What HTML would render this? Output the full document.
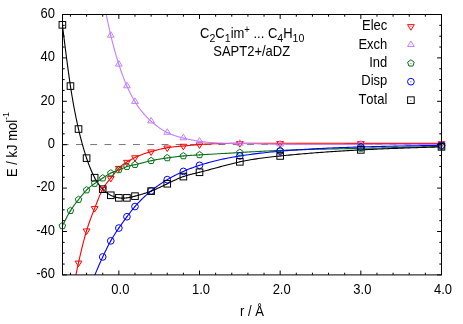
<!DOCTYPE html>
<html><head><meta charset="utf-8"><title>SAPT2+/aDZ</title>
<style>html,body{margin:0;padding:0;background:#fff;width:463px;height:324px;overflow:hidden}svg{will-change:transform}</style>
</head><body>
<svg width="463" height="324" viewBox="0 0 463 324" style="display:block;position:absolute;left:0;top:0">
<rect width="463" height="324" fill="#fff"/>
<defs><clipPath id="c"><rect x="62.5" y="14.5" width="379.0" height="260.4"/></clipPath></defs>
<line x1="62.5" y1="144.55" x2="441.5" y2="144.55" stroke="#000" stroke-width="0.55" stroke-dasharray="6.9 7.35" stroke-dashoffset="0.75"/>
<path d="M65.50,338.46 L66.13,333.98 L66.75,329.55 L67.37,325.19 L68.00,320.91 L68.62,316.70 L69.24,312.59 L69.87,308.58 L70.49,304.68 L71.11,300.89 L71.74,297.22 L72.36,293.65 L72.98,290.18 L73.61,286.81 L74.23,283.52 L74.85,280.31 L75.48,277.18 L76.10,274.12 L76.72,271.13 L77.35,268.19 L77.97,265.30 L78.59,262.45 L79.22,259.65 L79.84,256.89 L80.46,254.18 L81.09,251.52 L81.71,248.91 L82.33,246.35 L82.96,243.86 L83.58,241.42 L84.20,239.05 L84.83,236.75 L85.45,234.53 L86.07,232.37 L86.70,230.30 L87.32,228.30 L87.94,226.37 L88.57,224.51 L89.19,222.71 L89.81,220.95 L90.44,219.24 L91.06,217.57 L91.68,215.93 L92.31,214.31 L92.93,212.71 L93.55,211.11 L94.18,209.52 L94.80,207.92 L95.42,206.31 L96.05,204.70 L96.67,203.10 L97.29,201.50 L97.92,199.93 L98.54,198.38 L99.16,196.87 L99.78,195.39 L100.41,193.96 L101.03,192.59 L101.65,191.27 L102.28,190.03 L102.90,188.85 L103.52,187.76 L104.15,186.73 L104.77,185.77 L105.39,184.86 L106.02,184.00 L106.64,183.17 L107.26,182.38 L107.89,181.61 L108.51,180.86 L109.13,180.11 L109.76,179.37 L110.38,178.61 L111.00,177.84 L111.63,177.06 L112.25,176.26 L112.87,175.45 L113.50,174.64 L114.12,173.82 L114.74,173.01 L115.37,172.21 L115.99,171.43 L116.61,170.66 L117.24,169.92 L117.86,169.20 L118.48,168.52 L119.11,167.87 L119.73,167.26 L120.35,166.69 L120.98,166.15 L121.60,165.63 L122.22,165.15 L122.85,164.69 L123.47,164.25 L124.09,163.83 L124.72,163.42 L125.34,163.02 L125.96,162.63 L126.59,162.25 L127.21,161.87 L127.83,161.50 L128.46,161.12 L129.08,160.75 L129.70,160.38 L130.33,160.02 L130.95,159.66 L131.57,159.31 L132.20,158.96 L132.82,158.62 L133.44,158.28 L134.07,157.96 L134.69,157.64 L135.31,157.33 L135.94,157.03 L136.56,156.74 L137.18,156.46 L137.81,156.18 L138.43,155.91 L139.05,155.65 L139.67,155.40 L140.30,155.15 L140.92,154.91 L141.54,154.68 L142.17,154.45 L142.79,154.23 L143.41,154.01 L144.04,153.80 L144.66,153.59 L145.28,153.39 L145.91,153.19 L146.53,152.99 L147.15,152.80 L147.78,152.61 L148.40,152.42 L149.02,152.24 L149.65,152.06 L150.27,151.87 L150.89,151.69 L151.52,151.52 L152.14,151.34 L152.76,151.16 L153.39,150.98 L154.01,150.81 L154.63,150.64 L155.26,150.47 L155.88,150.30 L156.50,150.13 L157.13,149.96 L157.75,149.80 L158.37,149.64 L159.00,149.48 L159.62,149.33 L160.24,149.18 L160.87,149.03 L161.49,148.88 L162.11,148.74 L162.74,148.60 L163.36,148.47 L163.98,148.34 L164.61,148.21 L165.23,148.09 L165.85,147.97 L166.48,147.86 L167.10,147.75 L167.72,147.64 L168.35,147.54 L168.97,147.45 L169.59,147.36 L170.22,147.27 L170.84,147.19 L171.46,147.11 L172.09,147.03 L172.71,146.96 L173.33,146.89 L173.96,146.82 L174.58,146.76 L175.20,146.70 L175.83,146.64 L176.45,146.58 L177.07,146.52 L177.70,146.47 L178.32,146.41 L178.94,146.36 L179.56,146.30 L180.19,146.25 L180.81,146.20 L181.43,146.15 L182.06,146.10 L182.68,146.05 L183.30,145.99 L183.93,145.94 L184.55,145.89 L185.17,145.83 L185.80,145.78 L186.42,145.72 L187.04,145.66 L187.67,145.61 L188.29,145.55 L188.91,145.49 L189.54,145.44 L190.16,145.38 L190.78,145.32 L191.41,145.27 L192.03,145.21 L192.65,145.15 L193.28,145.10 L193.90,145.04 L194.52,144.99 L195.15,144.93 L195.77,144.88 L196.39,144.83 L197.02,144.77 L197.64,144.72 L198.26,144.67 L198.89,144.62 L199.51,144.58 L201.54,144.43 L203.58,144.29 L205.61,144.17 L207.64,144.06 L209.68,143.96 L211.71,143.87 L213.74,143.79 L215.78,143.72 L217.81,143.65 L219.84,143.60 L221.88,143.55 L223.91,143.51 L225.94,143.47 L227.98,143.44 L230.01,143.42 L232.05,143.39 L234.08,143.38 L236.11,143.36 L238.15,143.35 L240.18,143.34 L242.21,143.33 L244.25,143.32 L246.28,143.31 L248.31,143.30 L250.35,143.30 L252.38,143.29 L254.41,143.29 L256.45,143.28 L258.48,143.28 L260.51,143.28 L262.55,143.27 L264.58,143.27 L266.61,143.27 L268.65,143.27 L270.68,143.27 L272.71,143.27 L274.75,143.27 L276.78,143.27 L278.81,143.27 L280.85,143.27 L282.88,143.27 L284.91,143.28 L286.95,143.28 L288.98,143.28 L291.02,143.28 L293.05,143.28 L295.08,143.28 L297.12,143.28 L299.15,143.28 L301.18,143.29 L303.22,143.29 L305.25,143.29 L307.28,143.29 L309.32,143.29 L311.35,143.29 L313.38,143.30 L315.42,143.30 L317.45,143.30 L319.48,143.30 L321.52,143.30 L323.55,143.31 L325.58,143.31 L327.62,143.31 L329.65,143.31 L331.68,143.31 L333.72,143.31 L335.75,143.32 L337.78,143.32 L339.82,143.32 L341.85,143.32 L343.88,143.32 L345.92,143.33 L347.95,143.33 L349.98,143.33 L352.02,143.33 L354.05,143.33 L356.09,143.33 L358.12,143.34 L360.15,143.34 L362.19,143.34 L364.22,143.34 L366.25,143.34 L368.29,143.34 L370.32,143.35 L372.35,143.35 L374.39,143.35 L376.42,143.35 L378.45,143.35 L380.49,143.35 L382.52,143.35 L384.55,143.35 L386.59,143.36 L388.62,143.36 L390.65,143.36 L392.69,143.36 L394.72,143.36 L396.75,143.36 L398.79,143.36 L400.82,143.36 L402.85,143.36 L404.89,143.37 L406.92,143.37 L408.95,143.37 L410.99,143.37 L413.02,143.37 L415.06,143.37 L417.09,143.37 L419.12,143.37 L421.16,143.37 L423.19,143.37 L425.22,143.37 L427.26,143.38 L429.29,143.38 L431.32,143.38 L433.36,143.38 L435.39,143.38 L437.42,143.38 L439.46,143.38 L441.49,143.38" fill="none" stroke="#ff0000" stroke-width="1.1" clip-path="url(#c)"/>
<path d="M96.05,-47.68 L96.67,-43.14 L97.29,-38.70 L97.92,-34.37 L98.54,-30.14 L99.16,-26.02 L99.78,-21.99 L100.41,-18.05 L101.03,-14.21 L101.65,-10.46 L102.28,-6.80 L102.90,-3.22 L103.52,0.27 L104.15,3.68 L104.77,7.00 L105.39,10.25 L106.02,13.42 L106.64,16.52 L107.26,19.54 L107.89,22.50 L108.51,25.38 L109.13,28.19 L109.76,30.94 L110.38,33.62 L111.00,36.40 L111.63,38.94 L112.25,41.43 L112.87,43.85 L113.50,46.21 L114.12,48.51 L114.74,50.76 L115.37,52.95 L115.99,55.10 L116.61,57.20 L117.24,59.25 L117.86,61.25 L118.48,63.22 L119.11,65.15 L119.73,67.04 L120.35,68.89 L120.98,70.70 L121.60,72.48 L122.22,74.21 L122.85,75.91 L123.47,77.57 L124.09,79.20 L124.72,80.78 L125.34,82.33 L125.96,83.84 L126.59,85.30 L127.21,86.74 L127.83,88.13 L128.46,89.48 L129.08,90.80 L129.70,92.09 L130.33,93.34 L130.95,94.55 L131.57,95.74 L132.20,96.89 L132.82,98.02 L133.44,99.11 L134.07,100.18 L134.69,101.22 L135.31,102.23 L135.94,103.22 L136.56,104.19 L137.18,105.13 L137.81,106.05 L138.43,106.94 L139.05,107.81 L139.67,108.67 L140.30,109.50 L140.92,110.31 L141.54,111.10 L142.17,111.87 L142.79,112.63 L143.41,113.36 L144.04,114.08 L144.66,114.79 L145.28,115.47 L145.91,116.14 L146.53,116.80 L147.15,117.44 L147.78,118.07 L148.40,118.69 L149.02,119.29 L149.65,119.89 L150.27,120.47 L150.89,121.04 L151.52,121.60 L152.14,122.15 L152.76,122.69 L153.39,123.22 L154.01,123.75 L154.63,124.26 L155.26,124.76 L155.88,125.26 L156.50,125.74 L157.13,126.21 L157.75,126.68 L158.37,127.13 L159.00,127.58 L159.62,128.01 L160.24,128.43 L160.87,128.85 L161.49,129.25 L162.11,129.65 L162.74,130.03 L163.36,130.41 L163.98,130.78 L164.61,131.13 L165.23,131.48 L165.85,131.81 L166.48,132.14 L167.10,132.45 L167.72,132.76 L168.35,133.06 L168.97,133.34 L169.59,133.62 L170.22,133.89 L170.84,134.15 L171.46,134.40 L172.09,134.64 L172.71,134.88 L173.33,135.11 L173.96,135.33 L174.58,135.55 L175.20,135.76 L175.83,135.96 L176.45,136.16 L177.07,136.35 L177.70,136.54 L178.32,136.72 L178.94,136.90 L179.56,137.07 L180.19,137.24 L180.81,137.41 L181.43,137.57 L182.06,137.73 L182.68,137.89 L183.30,138.04 L183.93,138.20 L184.55,138.35 L185.17,138.50 L185.80,138.65 L186.42,138.79 L187.04,138.94 L187.67,139.08 L188.29,139.22 L188.91,139.36 L189.54,139.49 L190.16,139.62 L190.78,139.75 L191.41,139.88 L192.03,140.01 L192.65,140.13 L193.28,140.25 L193.90,140.37 L194.52,140.49 L195.15,140.60 L195.77,140.71 L196.39,140.82 L197.02,140.93 L197.64,141.03 L198.26,141.13 L198.89,141.22 L199.51,141.32 L201.54,141.61 L203.58,141.87 L205.61,142.10 L207.64,142.30 L209.68,142.48 L211.71,142.64 L213.74,142.78 L215.78,142.90 L217.81,143.01 L219.84,143.09 L221.88,143.17 L223.91,143.23 L225.94,143.28 L227.98,143.32 L230.01,143.36 L232.05,143.39 L234.08,143.42 L236.11,143.44 L238.15,143.47 L240.18,143.49 L242.21,143.52 L244.25,143.56 L246.28,143.59 L248.31,143.63 L250.35,143.66 L252.38,143.70 L254.41,143.74 L256.45,143.78 L258.48,143.83 L260.51,143.87 L262.55,143.91 L264.58,143.96 L266.61,144.00 L268.65,144.04 L270.68,144.08 L272.71,144.12 L274.75,144.16 L276.78,144.19 L278.81,144.23 L280.85,144.26 L282.88,144.29 L284.91,144.32 L286.95,144.34 L288.98,144.37 L291.02,144.39 L293.05,144.41 L295.08,144.42 L297.12,144.44 L299.15,144.45 L301.18,144.46 L303.22,144.47 L305.25,144.48 L307.28,144.49 L309.32,144.49 L311.35,144.49 L313.38,144.50 L315.42,144.50 L317.45,144.50 L319.48,144.50 L321.52,144.49 L323.55,144.49 L325.58,144.49 L327.62,144.48 L329.65,144.48 L331.68,144.47 L333.72,144.46 L335.75,144.46 L337.78,144.45 L339.82,144.44 L341.85,144.43 L343.88,144.43 L345.92,144.42 L347.95,144.41 L349.98,144.40 L352.02,144.39 L354.05,144.38 L356.09,144.38 L358.12,144.37 L360.15,144.36 L362.19,144.35 L364.22,144.35 L366.25,144.34 L368.29,144.34 L370.32,144.33 L372.35,144.33 L374.39,144.32 L376.42,144.32 L378.45,144.32 L380.49,144.32 L382.52,144.31 L384.55,144.31 L386.59,144.31 L388.62,144.31 L390.65,144.31 L392.69,144.31 L394.72,144.31 L396.75,144.31 L398.79,144.31 L400.82,144.31 L402.85,144.31 L404.89,144.31 L406.92,144.31 L408.95,144.31 L410.99,144.32 L413.02,144.32 L415.06,144.32 L417.09,144.32 L419.12,144.32 L421.16,144.33 L423.19,144.33 L425.22,144.33 L427.26,144.34 L429.29,144.34 L431.32,144.34 L433.36,144.35 L435.39,144.35 L437.42,144.35 L439.46,144.36 L441.49,144.36" fill="none" stroke="#c080ff" stroke-width="1.1" clip-path="url(#c)"/>
<path d="M62.39,225.88 L63.01,224.62 L63.63,223.37 L64.26,222.13 L64.88,220.89 L65.50,219.66 L66.13,218.45 L66.75,217.26 L67.37,216.08 L68.00,214.93 L68.62,213.81 L69.24,212.71 L69.87,211.65 L70.49,210.62 L71.11,209.63 L71.74,208.67 L72.36,207.75 L72.98,206.85 L73.61,205.98 L74.23,205.12 L74.85,204.29 L75.48,203.48 L76.10,202.67 L76.72,201.88 L77.35,201.09 L77.97,200.30 L78.59,199.52 L79.22,198.73 L79.84,197.95 L80.46,197.16 L81.09,196.38 L81.71,195.61 L82.33,194.84 L82.96,194.09 L83.58,193.35 L84.20,192.63 L84.83,191.93 L85.45,191.24 L86.07,190.58 L86.70,189.95 L87.32,189.34 L87.94,188.75 L88.57,188.19 L89.19,187.65 L89.81,187.13 L90.44,186.63 L91.06,186.14 L91.68,185.67 L92.31,185.21 L92.93,184.75 L93.55,184.31 L94.18,183.88 L94.80,183.44 L95.42,183.02 L96.05,182.59 L96.67,182.17 L97.29,181.75 L97.92,181.33 L98.54,180.91 L99.16,180.49 L99.78,180.08 L100.41,179.66 L101.03,179.25 L101.65,178.83 L102.28,178.41 L102.90,177.99 L103.52,177.58 L104.15,177.16 L104.77,176.74 L105.39,176.33 L106.02,175.92 L106.64,175.52 L107.26,175.12 L107.89,174.74 L108.51,174.37 L109.13,174.01 L109.76,173.66 L110.38,173.33 L111.00,173.02 L111.63,172.72 L112.25,172.44 L112.87,172.17 L113.50,171.91 L114.12,171.66 L114.74,171.42 L115.37,171.19 L115.99,170.95 L116.61,170.72 L117.24,170.49 L117.86,170.25 L118.48,170.01 L119.11,169.77 L119.73,169.51 L120.35,169.25 L120.98,168.99 L121.60,168.72 L122.22,168.45 L122.85,168.19 L123.47,167.93 L124.09,167.67 L124.72,167.42 L125.34,167.18 L125.96,166.94 L126.59,166.72 L127.21,166.52 L127.83,166.32 L128.46,166.14 L129.08,165.97 L129.70,165.81 L130.33,165.66 L130.95,165.52 L131.57,165.38 L132.20,165.24 L132.82,165.11 L133.44,164.98 L134.07,164.85 L134.69,164.72 L135.31,164.59 L135.94,164.45 L136.56,164.31 L137.18,164.16 L137.81,164.02 L138.43,163.87 L139.05,163.72 L139.67,163.56 L140.30,163.41 L140.92,163.25 L141.54,163.10 L142.17,162.94 L142.79,162.78 L143.41,162.63 L144.04,162.47 L144.66,162.31 L145.28,162.15 L145.91,162.00 L146.53,161.84 L147.15,161.68 L147.78,161.53 L148.40,161.38 L149.02,161.23 L149.65,161.08 L150.27,160.94 L150.89,160.80 L151.52,160.66 L152.14,160.52 L152.76,160.39 L153.39,160.26 L154.01,160.14 L154.63,160.01 L155.26,159.89 L155.88,159.77 L156.50,159.65 L157.13,159.54 L157.75,159.43 L158.37,159.32 L159.00,159.21 L159.62,159.10 L160.24,159.00 L160.87,158.90 L161.49,158.80 L162.11,158.70 L162.74,158.60 L163.36,158.50 L163.98,158.41 L164.61,158.31 L165.23,158.22 L165.85,158.13 L166.48,158.04 L167.10,157.95 L167.72,157.86 L168.35,157.77 L168.97,157.68 L169.59,157.60 L170.22,157.51 L170.84,157.43 L171.46,157.34 L172.09,157.26 L172.71,157.18 L173.33,157.09 L173.96,157.01 L174.58,156.94 L175.20,156.86 L175.83,156.78 L176.45,156.71 L177.07,156.63 L177.70,156.56 L178.32,156.49 L178.94,156.42 L179.56,156.35 L180.19,156.29 L180.81,156.22 L181.43,156.16 L182.06,156.10 L182.68,156.04 L183.30,155.98 L183.93,155.92 L184.55,155.87 L185.17,155.82 L185.80,155.77 L186.42,155.72 L187.04,155.67 L187.67,155.62 L188.29,155.57 L188.91,155.53 L189.54,155.49 L190.16,155.44 L190.78,155.40 L191.41,155.36 L192.03,155.32 L192.65,155.28 L193.28,155.25 L193.90,155.21 L194.52,155.17 L195.15,155.14 L195.77,155.10 L196.39,155.06 L197.02,155.03 L197.64,154.99 L198.26,154.96 L198.89,154.92 L199.51,154.89 L201.54,154.77 L203.58,154.66 L205.61,154.54 L207.64,154.42 L209.68,154.30 L211.71,154.18 L213.74,154.06 L215.78,153.94 L217.81,153.82 L219.84,153.69 L221.88,153.57 L223.91,153.45 L225.94,153.33 L227.98,153.20 L230.01,153.08 L232.05,152.96 L234.08,152.84 L236.11,152.72 L238.15,152.60 L240.18,152.48 L242.21,152.36 L244.25,152.24 L246.28,152.13 L248.31,152.01 L250.35,151.90 L252.38,151.79 L254.41,151.68 L256.45,151.57 L258.48,151.46 L260.51,151.35 L262.55,151.25 L264.58,151.15 L266.61,151.05 L268.65,150.95 L270.68,150.85 L272.71,150.76 L274.75,150.67 L276.78,150.58 L278.81,150.49 L280.85,150.41 L282.88,150.33 L284.91,150.25 L286.95,150.17 L288.98,150.10 L291.02,150.03 L293.05,149.96 L295.08,149.89 L297.12,149.83 L299.15,149.76 L301.18,149.70 L303.22,149.64 L305.25,149.59 L307.28,149.53 L309.32,149.47 L311.35,149.42 L313.38,149.37 L315.42,149.32 L317.45,149.27 L319.48,149.22 L321.52,149.18 L323.55,149.13 L325.58,149.09 L327.62,149.04 L329.65,149.00 L331.68,148.96 L333.72,148.91 L335.75,148.87 L337.78,148.83 L339.82,148.79 L341.85,148.75 L343.88,148.71 L345.92,148.67 L347.95,148.63 L349.98,148.59 L352.02,148.55 L354.05,148.51 L356.09,148.47 L358.12,148.43 L360.15,148.39 L362.19,148.35 L364.22,148.30 L366.25,148.26 L368.29,148.22 L370.32,148.17 L372.35,148.13 L374.39,148.08 L376.42,148.04 L378.45,147.99 L380.49,147.95 L382.52,147.90 L384.55,147.85 L386.59,147.80 L388.62,147.76 L390.65,147.71 L392.69,147.66 L394.72,147.61 L396.75,147.56 L398.79,147.51 L400.82,147.46 L402.85,147.41 L404.89,147.36 L406.92,147.31 L408.95,147.26 L410.99,147.21 L413.02,147.16 L415.06,147.10 L417.09,147.05 L419.12,147.00 L421.16,146.95 L423.19,146.90 L425.22,146.84 L427.26,146.79 L429.29,146.74 L431.32,146.69 L433.36,146.63 L435.39,146.58 L437.42,146.53 L439.46,146.47 L441.49,146.42" fill="none" stroke="#057016" stroke-width="1.1" clip-path="url(#c)"/>
<path d="M74.23,337.74 L74.85,335.39 L75.48,333.07 L76.10,330.79 L76.72,328.54 L77.35,326.33 L77.97,324.16 L78.59,322.02 L79.22,319.92 L79.84,317.86 L80.46,315.83 L81.09,313.83 L81.71,311.86 L82.33,309.92 L82.96,308.01 L83.58,306.12 L84.20,304.25 L84.83,302.41 L85.45,300.59 L86.07,298.78 L86.70,296.99 L87.32,295.22 L87.94,293.46 L88.57,291.71 L89.19,289.98 L89.81,288.27 L90.44,286.58 L91.06,284.90 L91.68,283.24 L92.31,281.60 L92.93,279.98 L93.55,278.38 L94.18,276.79 L94.80,275.23 L95.42,273.69 L96.05,272.16 L96.67,270.66 L97.29,269.18 L97.92,267.71 L98.54,266.26 L99.16,264.82 L99.78,263.41 L100.41,262.00 L101.03,260.61 L101.65,259.24 L102.28,257.88 L102.90,256.53 L103.52,255.19 L104.15,253.87 L104.77,252.56 L105.39,251.27 L106.02,249.99 L106.64,248.73 L107.26,247.49 L107.89,246.26 L108.51,245.06 L109.13,243.88 L109.76,242.72 L110.38,241.58 L111.00,240.47 L111.63,239.38 L112.25,238.31 L112.87,237.27 L113.50,236.24 L114.12,235.24 L114.74,234.25 L115.37,233.27 L115.99,232.31 L116.61,231.37 L117.24,230.43 L117.86,229.50 L118.48,228.59 L119.11,227.68 L119.73,226.77 L120.35,225.87 L120.98,224.98 L121.60,224.09 L122.22,223.21 L122.85,222.34 L123.47,221.47 L124.09,220.60 L124.72,219.75 L125.34,218.89 L125.96,218.05 L126.59,217.20 L127.21,216.37 L127.83,215.54 L128.46,214.71 L129.08,213.89 L129.70,213.08 L130.33,212.28 L130.95,211.48 L131.57,210.70 L132.20,209.92 L132.82,209.15 L133.44,208.39 L134.07,207.64 L134.69,206.90 L135.31,206.17 L135.94,205.46 L136.56,204.75 L137.18,204.06 L137.81,203.38 L138.43,202.70 L139.05,202.04 L139.67,201.39 L140.30,200.75 L140.92,200.11 L141.54,199.49 L142.17,198.88 L142.79,198.27 L143.41,197.67 L144.04,197.08 L144.66,196.50 L145.28,195.93 L145.91,195.37 L146.53,194.81 L147.15,194.26 L147.78,193.72 L148.40,193.18 L149.02,192.65 L149.65,192.13 L150.27,191.62 L150.89,191.11 L151.52,190.60 L152.14,190.10 L152.76,189.61 L153.39,189.12 L154.01,188.64 L154.63,188.16 L155.26,187.69 L155.88,187.23 L156.50,186.77 L157.13,186.31 L157.75,185.86 L158.37,185.42 L159.00,184.98 L159.62,184.55 L160.24,184.12 L160.87,183.69 L161.49,183.27 L162.11,182.86 L162.74,182.45 L163.36,182.05 L163.98,181.65 L164.61,181.25 L165.23,180.86 L165.85,180.48 L166.48,180.10 L167.10,179.72 L167.72,179.35 L168.35,178.99 L168.97,178.63 L169.59,178.27 L170.22,177.92 L170.84,177.57 L171.46,177.22 L172.09,176.88 L172.71,176.55 L173.33,176.22 L173.96,175.89 L174.58,175.56 L175.20,175.24 L175.83,174.93 L176.45,174.62 L177.07,174.31 L177.70,174.00 L178.32,173.70 L178.94,173.40 L179.56,173.11 L180.19,172.82 L180.81,172.53 L181.43,172.25 L182.06,171.97 L182.68,171.69 L183.30,171.42 L183.93,171.15 L184.55,170.88 L185.17,170.62 L185.80,170.36 L186.42,170.10 L187.04,169.84 L187.67,169.59 L188.29,169.34 L188.91,169.10 L189.54,168.85 L190.16,168.61 L190.78,168.37 L191.41,168.14 L192.03,167.90 L192.65,167.67 L193.28,167.45 L193.90,167.22 L194.52,167.00 L195.15,166.78 L195.77,166.56 L196.39,166.35 L197.02,166.14 L197.64,165.93 L198.26,165.72 L198.89,165.51 L199.51,165.31 L201.54,164.66 L203.58,164.04 L205.61,163.43 L207.64,162.85 L209.68,162.29 L211.71,161.75 L213.74,161.23 L215.78,160.72 L217.81,160.24 L219.84,159.77 L221.88,159.32 L223.91,158.89 L225.94,158.47 L227.98,158.07 L230.01,157.68 L232.05,157.30 L234.08,156.94 L236.11,156.59 L238.15,156.25 L240.18,155.92 L242.21,155.60 L244.25,155.29 L246.28,155.00 L248.31,154.71 L250.35,154.43 L252.38,154.16 L254.41,153.90 L256.45,153.64 L258.48,153.40 L260.51,153.16 L262.55,152.93 L264.58,152.70 L266.61,152.49 L268.65,152.28 L270.68,152.07 L272.71,151.88 L274.75,151.68 L276.78,151.50 L278.81,151.32 L280.85,151.14 L282.88,150.97 L284.91,150.80 L286.95,150.63 L288.98,150.48 L291.02,150.32 L293.05,150.17 L295.08,150.02 L297.12,149.88 L299.15,149.74 L301.18,149.61 L303.22,149.48 L305.25,149.35 L307.28,149.22 L309.32,149.10 L311.35,148.99 L313.38,148.87 L315.42,148.76 L317.45,148.65 L319.48,148.55 L321.52,148.45 L323.55,148.35 L325.58,148.25 L327.62,148.16 L329.65,148.07 L331.68,147.98 L333.72,147.90 L335.75,147.82 L337.78,147.74 L339.82,147.66 L341.85,147.58 L343.88,147.51 L345.92,147.44 L347.95,147.37 L349.98,147.30 L352.02,147.23 L354.05,147.17 L356.09,147.10 L358.12,147.04 L360.15,146.98 L362.19,146.92 L364.22,146.87 L366.25,146.81 L368.29,146.76 L370.32,146.70 L372.35,146.65 L374.39,146.60 L376.42,146.55 L378.45,146.50 L380.49,146.45 L382.52,146.41 L384.55,146.36 L386.59,146.32 L388.62,146.27 L390.65,146.23 L392.69,146.19 L394.72,146.14 L396.75,146.10 L398.79,146.06 L400.82,146.02 L402.85,145.99 L404.89,145.95 L406.92,145.91 L408.95,145.87 L410.99,145.84 L413.02,145.80 L415.06,145.77 L417.09,145.73 L419.12,145.70 L421.16,145.66 L423.19,145.63 L425.22,145.60 L427.26,145.56 L429.29,145.53 L431.32,145.50 L433.36,145.46 L435.39,145.43 L437.42,145.40 L439.46,145.37 L441.49,145.34" fill="none" stroke="#0000ff" stroke-width="1.1" clip-path="url(#c)"/>
<path d="M62.39,24.85 L63.01,29.89 L63.63,34.92 L64.26,39.92 L64.88,44.90 L65.50,49.83 L66.13,54.70 L66.75,59.51 L67.37,64.23 L68.00,68.87 L68.62,73.41 L69.24,77.84 L69.87,82.14 L70.49,86.31 L71.11,90.34 L71.74,94.22 L72.36,97.98 L72.98,101.60 L73.61,105.11 L74.23,108.49 L74.85,111.77 L75.48,114.94 L76.10,118.00 L76.72,120.98 L77.35,123.86 L77.97,126.65 L78.59,129.37 L79.22,132.01 L79.84,134.58 L80.46,137.08 L81.09,139.50 L81.71,141.86 L82.33,144.15 L82.96,146.38 L83.58,148.55 L84.20,150.65 L84.83,152.69 L85.45,154.67 L86.07,156.60 L86.70,158.47 L87.32,160.29 L87.94,162.05 L88.57,163.76 L89.19,165.41 L89.81,167.02 L90.44,168.57 L91.06,170.06 L91.68,171.51 L92.31,172.90 L92.93,174.24 L93.55,175.53 L94.18,176.77 L94.80,177.96 L95.42,179.10 L96.05,180.19 L96.67,181.23 L97.29,182.22 L97.92,183.17 L98.54,184.08 L99.16,184.95 L99.78,185.78 L100.41,186.57 L101.03,187.32 L101.65,188.04 L102.28,188.73 L102.90,189.38 L103.52,190.00 L104.15,190.59 L104.77,191.15 L105.39,191.69 L106.02,192.20 L106.64,192.68 L107.26,193.13 L107.89,193.56 L108.51,193.97 L109.13,194.35 L109.76,194.72 L110.38,195.06 L111.00,195.38 L111.63,195.68 L112.25,195.97 L112.87,196.23 L113.50,196.48 L114.12,196.70 L114.74,196.91 L115.37,197.11 L115.99,197.28 L116.61,197.44 L117.24,197.58 L117.86,197.71 L118.48,197.82 L119.11,197.91 L119.73,197.99 L120.35,198.05 L120.98,198.10 L121.60,198.13 L122.22,198.15 L122.85,198.16 L123.47,198.15 L124.09,198.13 L124.72,198.09 L125.34,198.05 L125.96,197.99 L126.59,197.92 L127.21,197.83 L127.83,197.74 L128.46,197.64 L129.08,197.52 L129.70,197.40 L130.33,197.27 L130.95,197.13 L131.57,196.99 L132.20,196.84 L132.82,196.69 L133.44,196.53 L134.07,196.37 L134.69,196.21 L135.31,196.05 L135.94,195.89 L136.56,195.72 L137.18,195.56 L137.81,195.39 L138.43,195.22 L139.05,195.05 L139.67,194.87 L140.30,194.70 L140.92,194.52 L141.54,194.34 L142.17,194.16 L142.79,193.97 L143.41,193.78 L144.04,193.59 L144.66,193.40 L145.28,193.20 L145.91,193.00 L146.53,192.79 L147.15,192.58 L147.78,192.37 L148.40,192.15 L149.02,191.92 L149.65,191.70 L150.27,191.47 L150.89,191.23 L151.52,190.99 L152.14,190.74 L152.76,190.49 L153.39,190.23 L154.01,189.97 L154.63,189.71 L155.26,189.44 L155.88,189.16 L156.50,188.89 L157.13,188.61 L157.75,188.32 L158.37,188.04 L159.00,187.75 L159.62,187.46 L160.24,187.16 L160.87,186.87 L161.49,186.57 L162.11,186.27 L162.74,185.97 L163.36,185.67 L163.98,185.36 L164.61,185.06 L165.23,184.75 L165.85,184.45 L166.48,184.14 L167.10,183.83 L167.72,183.53 L168.35,183.22 L168.97,182.92 L169.59,182.61 L170.22,182.31 L170.84,182.01 L171.46,181.70 L172.09,181.41 L172.71,181.11 L173.33,180.81 L173.96,180.52 L174.58,180.23 L175.20,179.95 L175.83,179.66 L176.45,179.39 L177.07,179.11 L177.70,178.84 L178.32,178.57 L178.94,178.31 L179.56,178.05 L180.19,177.80 L180.81,177.55 L181.43,177.31 L182.06,177.08 L182.68,176.85 L183.30,176.62 L183.93,176.41 L184.55,176.20 L185.17,175.99 L185.80,175.79 L186.42,175.60 L187.04,175.41 L187.67,175.23 L188.29,175.05 L188.91,174.88 L189.54,174.71 L190.16,174.54 L190.78,174.38 L191.41,174.22 L192.03,174.06 L192.65,173.90 L193.28,173.75 L193.90,173.60 L194.52,173.45 L195.15,173.30 L195.77,173.15 L196.39,173.00 L197.02,172.85 L197.64,172.70 L198.26,172.56 L198.89,172.41 L199.51,172.26 L201.54,171.76 L203.58,171.24 L205.61,170.72 L207.64,170.18 L209.68,169.64 L211.71,169.09 L213.74,168.54 L215.78,167.98 L217.81,167.42 L219.84,166.87 L221.88,166.31 L223.91,165.77 L225.94,165.23 L227.98,164.69 L230.01,164.17 L232.05,163.66 L234.08,163.16 L236.11,162.67 L238.15,162.21 L240.18,161.76 L242.21,161.33 L244.25,160.93 L246.28,160.54 L248.31,160.17 L250.35,159.81 L252.38,159.47 L254.41,159.15 L256.45,158.84 L258.48,158.54 L260.51,158.26 L262.55,157.99 L264.58,157.72 L266.61,157.47 L268.65,157.23 L270.68,156.99 L272.71,156.76 L274.75,156.54 L276.78,156.32 L278.81,156.11 L280.85,155.90 L282.88,155.70 L284.91,155.50 L286.95,155.30 L288.98,155.10 L291.02,154.91 L293.05,154.72 L295.08,154.53 L297.12,154.35 L299.15,154.16 L301.18,153.98 L303.22,153.81 L305.25,153.64 L307.28,153.46 L309.32,153.30 L311.35,153.13 L313.38,152.97 L315.42,152.81 L317.45,152.65 L319.48,152.50 L321.52,152.35 L323.55,152.20 L325.58,152.05 L327.62,151.91 L329.65,151.77 L331.68,151.63 L333.72,151.49 L335.75,151.36 L337.78,151.22 L339.82,151.10 L341.85,150.97 L343.88,150.84 L345.92,150.72 L347.95,150.60 L349.98,150.48 L352.02,150.37 L354.05,150.26 L356.09,150.14 L358.12,150.04 L360.15,149.93 L362.19,149.83 L364.22,149.72 L366.25,149.62 L368.29,149.52 L370.32,149.43 L372.35,149.33 L374.39,149.24 L376.42,149.15 L378.45,149.06 L380.49,148.97 L382.52,148.89 L384.55,148.80 L386.59,148.72 L388.62,148.64 L390.65,148.56 L392.69,148.48 L394.72,148.40 L396.75,148.33 L398.79,148.25 L400.82,148.18 L402.85,148.10 L404.89,148.03 L406.92,147.96 L408.95,147.89 L410.99,147.82 L413.02,147.76 L415.06,147.69 L417.09,147.62 L419.12,147.56 L421.16,147.49 L423.19,147.42 L425.22,147.36 L427.26,147.30 L429.29,147.23 L431.32,147.17 L433.36,147.11 L435.39,147.04 L437.42,146.98 L439.46,146.92 L441.49,146.86" fill="none" stroke="#000000" stroke-width="1.1" clip-path="url(#c)"/>
<polygon points="78.52,266.59 75.12,261.09 81.92,261.09" fill="none" stroke="#ff0000" stroke-width="1.0" stroke-linejoin="miter"/><circle cx="78.52" cy="262.79" r="0.5" fill="#ff0000"/>
<polygon points="86.59,234.46 83.19,228.96 89.99,228.96" fill="none" stroke="#ff0000" stroke-width="1.0" stroke-linejoin="miter"/><circle cx="86.59" cy="230.66" r="0.5" fill="#ff0000"/>
<polygon points="94.65,212.09 91.25,206.59 98.05,206.59" fill="none" stroke="#ff0000" stroke-width="1.0" stroke-linejoin="miter"/><circle cx="94.65" cy="208.29" r="0.5" fill="#ff0000"/>
<polygon points="102.72,192.99 99.32,187.49 106.12,187.49" fill="none" stroke="#ff0000" stroke-width="1.0" stroke-linejoin="miter"/><circle cx="102.72" cy="189.19" r="0.5" fill="#ff0000"/>
<polygon points="110.78,181.92 107.38,176.42 114.18,176.42" fill="none" stroke="#ff0000" stroke-width="1.0" stroke-linejoin="miter"/><circle cx="110.78" cy="178.12" r="0.5" fill="#ff0000"/>
<polygon points="118.85,171.93 115.45,166.43 122.25,166.43" fill="none" stroke="#ff0000" stroke-width="1.0" stroke-linejoin="miter"/><circle cx="118.85" cy="168.13" r="0.5" fill="#ff0000"/>
<polygon points="126.92,165.85 123.52,160.35 130.32,160.35" fill="none" stroke="#ff0000" stroke-width="1.0" stroke-linejoin="miter"/><circle cx="126.92" cy="162.05" r="0.5" fill="#ff0000"/>
<polygon points="134.98,161.29 131.58,155.79 138.38,155.79" fill="none" stroke="#ff0000" stroke-width="1.0" stroke-linejoin="miter"/><circle cx="134.98" cy="157.49" r="0.5" fill="#ff0000"/>
<polygon points="151.11,155.43 147.71,149.93 154.51,149.93" fill="none" stroke="#ff0000" stroke-width="1.0" stroke-linejoin="miter"/><circle cx="151.11" cy="151.63" r="0.5" fill="#ff0000"/>
<polygon points="167.25,151.52 163.85,146.02 170.65,146.02" fill="none" stroke="#ff0000" stroke-width="1.0" stroke-linejoin="miter"/><circle cx="167.25" cy="147.72" r="0.5" fill="#ff0000"/>
<polygon points="183.38,149.79 179.98,144.29 186.78,144.29" fill="none" stroke="#ff0000" stroke-width="1.0" stroke-linejoin="miter"/><circle cx="183.38" cy="145.99" r="0.5" fill="#ff0000"/>
<polygon points="199.51,148.38 196.11,142.88 202.91,142.88" fill="none" stroke="#ff0000" stroke-width="1.0" stroke-linejoin="miter"/><circle cx="199.51" cy="144.58" r="0.5" fill="#ff0000"/>
<polygon points="239.84,147.14 236.44,141.64 243.24,141.64" fill="none" stroke="#ff0000" stroke-width="1.0" stroke-linejoin="miter"/><circle cx="239.84" cy="143.34" r="0.5" fill="#ff0000"/>
<polygon points="280.17,147.07 276.77,141.57 283.57,141.57" fill="none" stroke="#ff0000" stroke-width="1.0" stroke-linejoin="miter"/><circle cx="280.17" cy="143.27" r="0.5" fill="#ff0000"/>
<polygon points="360.83,147.14 357.43,141.64 364.23,141.64" fill="none" stroke="#ff0000" stroke-width="1.0" stroke-linejoin="miter"/><circle cx="360.83" cy="143.34" r="0.5" fill="#ff0000"/>
<polygon points="441.49,147.18 438.09,141.68 444.89,141.68" fill="none" stroke="#ff0000" stroke-width="1.0" stroke-linejoin="miter"/><circle cx="441.49" cy="143.38" r="0.5" fill="#ff0000"/>
<polygon points="110.78,31.68 107.38,37.18 114.18,37.18" fill="none" stroke="#c080ff" stroke-width="1.0" stroke-linejoin="miter"/><circle cx="110.78" cy="35.48" r="0.5" fill="#c080ff"/>
<polygon points="118.85,60.56 115.45,66.06 122.25,66.06" fill="none" stroke="#c080ff" stroke-width="1.0" stroke-linejoin="miter"/><circle cx="118.85" cy="64.36" r="0.5" fill="#c080ff"/>
<polygon points="126.92,82.27 123.52,87.77 130.32,87.77" fill="none" stroke="#c080ff" stroke-width="1.0" stroke-linejoin="miter"/><circle cx="126.92" cy="86.07" r="0.5" fill="#c080ff"/>
<polygon points="134.98,97.90 131.58,103.40 138.38,103.40" fill="none" stroke="#c080ff" stroke-width="1.0" stroke-linejoin="miter"/><circle cx="134.98" cy="101.70" r="0.5" fill="#c080ff"/>
<polygon points="151.11,117.44 147.71,122.94 154.51,122.94" fill="none" stroke="#c080ff" stroke-width="1.0" stroke-linejoin="miter"/><circle cx="151.11" cy="121.24" r="0.5" fill="#c080ff"/>
<polygon points="167.25,128.73 163.85,134.23 170.65,134.23" fill="none" stroke="#c080ff" stroke-width="1.0" stroke-linejoin="miter"/><circle cx="167.25" cy="132.53" r="0.5" fill="#c080ff"/>
<polygon points="183.38,134.26 179.98,139.76 186.78,139.76" fill="none" stroke="#c080ff" stroke-width="1.0" stroke-linejoin="miter"/><circle cx="183.38" cy="138.06" r="0.5" fill="#c080ff"/>
<polygon points="199.51,137.52 196.11,143.02 202.91,143.02" fill="none" stroke="#c080ff" stroke-width="1.0" stroke-linejoin="miter"/><circle cx="199.51" cy="141.32" r="0.5" fill="#c080ff"/>
<polygon points="239.84,139.69 236.44,145.19 243.24,145.19" fill="none" stroke="#c080ff" stroke-width="1.0" stroke-linejoin="miter"/><circle cx="239.84" cy="143.49" r="0.5" fill="#c080ff"/>
<polygon points="280.17,140.45 276.77,145.95 283.57,145.95" fill="none" stroke="#c080ff" stroke-width="1.0" stroke-linejoin="miter"/><circle cx="280.17" cy="144.25" r="0.5" fill="#c080ff"/>
<polygon points="360.83,140.56 357.43,146.06 364.23,146.06" fill="none" stroke="#c080ff" stroke-width="1.0" stroke-linejoin="miter"/><circle cx="360.83" cy="144.36" r="0.5" fill="#c080ff"/>
<polygon points="441.49,140.56 438.09,146.06 444.89,146.06" fill="none" stroke="#c080ff" stroke-width="1.0" stroke-linejoin="miter"/><circle cx="441.49" cy="144.36" r="0.5" fill="#c080ff"/>
<polygon points="62.39,222.43 65.67,224.81 64.42,228.67 60.36,228.67 59.11,224.81" fill="none" stroke="#057016" stroke-width="1.0" stroke-linejoin="miter"/><circle cx="62.39" cy="225.88" r="0.5" fill="#057016"/>
<polygon points="70.45,207.23 73.74,209.62 72.48,213.47 68.43,213.47 67.17,209.62" fill="none" stroke="#057016" stroke-width="1.0" stroke-linejoin="miter"/><circle cx="70.45" cy="210.68" r="0.5" fill="#057016"/>
<polygon points="78.52,196.16 81.80,198.54 80.55,202.40 76.49,202.40 75.24,198.54" fill="none" stroke="#057016" stroke-width="1.0" stroke-linejoin="miter"/><circle cx="78.52" cy="199.61" r="0.5" fill="#057016"/>
<polygon points="86.59,186.61 89.87,188.99 88.61,192.85 84.56,192.85 83.30,188.99" fill="none" stroke="#057016" stroke-width="1.0" stroke-linejoin="miter"/><circle cx="86.59" cy="190.06" r="0.5" fill="#057016"/>
<polygon points="94.65,180.10 97.93,182.48 96.68,186.34 92.62,186.34 91.37,182.48" fill="none" stroke="#057016" stroke-width="1.0" stroke-linejoin="miter"/><circle cx="94.65" cy="183.55" r="0.5" fill="#057016"/>
<polygon points="102.72,174.67 106.00,177.05 104.75,180.91 100.69,180.91 99.44,177.05" fill="none" stroke="#057016" stroke-width="1.0" stroke-linejoin="miter"/><circle cx="102.72" cy="178.12" r="0.5" fill="#057016"/>
<polygon points="110.78,169.67 114.07,172.06 112.81,175.92 108.76,175.92 107.50,172.06" fill="none" stroke="#057016" stroke-width="1.0" stroke-linejoin="miter"/><circle cx="110.78" cy="173.12" r="0.5" fill="#057016"/>
<polygon points="118.85,166.42 122.13,168.80 120.88,172.66 116.82,172.66 115.57,168.80" fill="none" stroke="#057016" stroke-width="1.0" stroke-linejoin="miter"/><circle cx="118.85" cy="169.87" r="0.5" fill="#057016"/>
<polygon points="126.92,163.16 130.20,165.55 128.94,169.40 124.89,169.40 123.63,165.55" fill="none" stroke="#057016" stroke-width="1.0" stroke-linejoin="miter"/><circle cx="126.92" cy="166.61" r="0.5" fill="#057016"/>
<polygon points="134.98,161.21 138.26,163.59 137.01,167.45 132.95,167.45 131.70,163.59" fill="none" stroke="#057016" stroke-width="1.0" stroke-linejoin="miter"/><circle cx="134.98" cy="164.66" r="0.5" fill="#057016"/>
<polygon points="151.11,157.30 154.40,159.68 153.14,163.54 149.09,163.54 147.83,159.68" fill="none" stroke="#057016" stroke-width="1.0" stroke-linejoin="miter"/><circle cx="151.11" cy="160.75" r="0.5" fill="#057016"/>
<polygon points="167.25,154.48 170.53,156.86 169.27,160.72 165.22,160.72 163.96,156.86" fill="none" stroke="#057016" stroke-width="1.0" stroke-linejoin="miter"/><circle cx="167.25" cy="157.93" r="0.5" fill="#057016"/>
<polygon points="183.38,152.52 186.66,154.91 185.41,158.76 181.35,158.76 180.10,154.91" fill="none" stroke="#057016" stroke-width="1.0" stroke-linejoin="miter"/><circle cx="183.38" cy="155.97" r="0.5" fill="#057016"/>
<polygon points="199.51,151.44 202.79,153.82 201.54,157.68 197.48,157.68 196.23,153.82" fill="none" stroke="#057016" stroke-width="1.0" stroke-linejoin="miter"/><circle cx="199.51" cy="154.89" r="0.5" fill="#057016"/>
<polygon points="239.84,149.05 243.12,151.43 241.87,155.29 237.81,155.29 236.56,151.43" fill="none" stroke="#057016" stroke-width="1.0" stroke-linejoin="miter"/><circle cx="239.84" cy="152.50" r="0.5" fill="#057016"/>
<polygon points="280.17,146.99 283.45,149.37 282.20,153.23 278.14,153.23 276.89,149.37" fill="none" stroke="#057016" stroke-width="1.0" stroke-linejoin="miter"/><circle cx="280.17" cy="150.44" r="0.5" fill="#057016"/>
<polygon points="360.83,144.92 364.11,147.31 362.86,151.17 358.80,151.17 357.55,147.31" fill="none" stroke="#057016" stroke-width="1.0" stroke-linejoin="miter"/><circle cx="360.83" cy="148.37" r="0.5" fill="#057016"/>
<polygon points="441.49,142.97 444.77,145.35 443.52,149.21 439.46,149.21 438.21,145.35" fill="none" stroke="#057016" stroke-width="1.0" stroke-linejoin="miter"/><circle cx="441.49" cy="146.42" r="0.5" fill="#057016"/>
<circle cx="102.72" cy="256.92" r="3.35" fill="none" stroke="#0000ff" stroke-width="1.0"/><circle cx="102.72" cy="256.92" r="0.5" fill="#0000ff"/>
<circle cx="110.78" cy="240.86" r="3.35" fill="none" stroke="#0000ff" stroke-width="1.0"/><circle cx="110.78" cy="240.86" r="0.5" fill="#0000ff"/>
<circle cx="118.85" cy="228.05" r="3.35" fill="none" stroke="#0000ff" stroke-width="1.0"/><circle cx="118.85" cy="228.05" r="0.5" fill="#0000ff"/>
<circle cx="126.92" cy="216.76" r="3.35" fill="none" stroke="#0000ff" stroke-width="1.0"/><circle cx="126.92" cy="216.76" r="0.5" fill="#0000ff"/>
<circle cx="134.98" cy="206.56" r="3.35" fill="none" stroke="#0000ff" stroke-width="1.0"/><circle cx="134.98" cy="206.56" r="0.5" fill="#0000ff"/>
<circle cx="151.11" cy="190.93" r="3.35" fill="none" stroke="#0000ff" stroke-width="1.0"/><circle cx="151.11" cy="190.93" r="0.5" fill="#0000ff"/>
<circle cx="167.25" cy="179.64" r="3.35" fill="none" stroke="#0000ff" stroke-width="1.0"/><circle cx="167.25" cy="179.64" r="0.5" fill="#0000ff"/>
<circle cx="183.38" cy="171.39" r="3.35" fill="none" stroke="#0000ff" stroke-width="1.0"/><circle cx="183.38" cy="171.39" r="0.5" fill="#0000ff"/>
<circle cx="199.51" cy="165.31" r="3.35" fill="none" stroke="#0000ff" stroke-width="1.0"/><circle cx="199.51" cy="165.31" r="0.5" fill="#0000ff"/>
<circle cx="239.84" cy="155.97" r="3.35" fill="none" stroke="#0000ff" stroke-width="1.0"/><circle cx="239.84" cy="155.97" r="0.5" fill="#0000ff"/>
<circle cx="280.17" cy="151.20" r="3.35" fill="none" stroke="#0000ff" stroke-width="1.0"/><circle cx="280.17" cy="151.20" r="0.5" fill="#0000ff"/>
<circle cx="360.83" cy="146.96" r="3.35" fill="none" stroke="#0000ff" stroke-width="1.0"/><circle cx="360.83" cy="146.96" r="0.5" fill="#0000ff"/>
<circle cx="441.49" cy="145.34" r="3.35" fill="none" stroke="#0000ff" stroke-width="1.0"/><circle cx="441.49" cy="145.34" r="0.5" fill="#0000ff"/>
<rect x="59.09" y="21.55" width="6.60" height="6.60" fill="none" stroke="#000000" stroke-width="1.0"/><circle cx="62.39" cy="24.85" r="0.5" fill="#000000"/>
<rect x="67.15" y="82.77" width="6.60" height="6.60" fill="none" stroke="#000000" stroke-width="1.0"/><circle cx="70.45" cy="86.07" r="0.5" fill="#000000"/>
<rect x="75.22" y="125.75" width="6.60" height="6.60" fill="none" stroke="#000000" stroke-width="1.0"/><circle cx="78.52" cy="129.05" r="0.5" fill="#000000"/>
<rect x="83.29" y="154.84" width="6.60" height="6.60" fill="none" stroke="#000000" stroke-width="1.0"/><circle cx="86.59" cy="158.14" r="0.5" fill="#000000"/>
<rect x="91.35" y="174.38" width="6.60" height="6.60" fill="none" stroke="#000000" stroke-width="1.0"/><circle cx="94.65" cy="177.68" r="0.5" fill="#000000"/>
<rect x="99.42" y="185.89" width="6.60" height="6.60" fill="none" stroke="#000000" stroke-width="1.0"/><circle cx="102.72" cy="189.19" r="0.5" fill="#000000"/>
<rect x="107.48" y="191.97" width="6.60" height="6.60" fill="none" stroke="#000000" stroke-width="1.0"/><circle cx="110.78" cy="195.27" r="0.5" fill="#000000"/>
<rect x="115.55" y="194.57" width="6.60" height="6.60" fill="none" stroke="#000000" stroke-width="1.0"/><circle cx="118.85" cy="197.87" r="0.5" fill="#000000"/>
<rect x="123.62" y="194.57" width="6.60" height="6.60" fill="none" stroke="#000000" stroke-width="1.0"/><circle cx="126.92" cy="197.87" r="0.5" fill="#000000"/>
<rect x="131.68" y="192.84" width="6.60" height="6.60" fill="none" stroke="#000000" stroke-width="1.0"/><circle cx="134.98" cy="196.14" r="0.5" fill="#000000"/>
<rect x="147.81" y="187.84" width="6.60" height="6.60" fill="none" stroke="#000000" stroke-width="1.0"/><circle cx="151.11" cy="191.14" r="0.5" fill="#000000"/>
<rect x="163.95" y="180.46" width="6.60" height="6.60" fill="none" stroke="#000000" stroke-width="1.0"/><circle cx="167.25" cy="183.76" r="0.5" fill="#000000"/>
<rect x="180.08" y="173.30" width="6.60" height="6.60" fill="none" stroke="#000000" stroke-width="1.0"/><circle cx="183.38" cy="176.60" r="0.5" fill="#000000"/>
<rect x="196.21" y="168.96" width="6.60" height="6.60" fill="none" stroke="#000000" stroke-width="1.0"/><circle cx="199.51" cy="172.26" r="0.5" fill="#000000"/>
<rect x="236.54" y="158.54" width="6.60" height="6.60" fill="none" stroke="#000000" stroke-width="1.0"/><circle cx="239.84" cy="161.84" r="0.5" fill="#000000"/>
<rect x="276.87" y="152.67" width="6.60" height="6.60" fill="none" stroke="#000000" stroke-width="1.0"/><circle cx="280.17" cy="155.97" r="0.5" fill="#000000"/>
<rect x="357.53" y="146.59" width="6.60" height="6.60" fill="none" stroke="#000000" stroke-width="1.0"/><circle cx="360.83" cy="149.89" r="0.5" fill="#000000"/>
<rect x="438.19" y="143.56" width="6.60" height="6.60" fill="none" stroke="#000000" stroke-width="1.0"/><circle cx="441.49" cy="146.86" r="0.5" fill="#000000"/>
<rect x="62.5" y="14.5" width="379.0" height="260.4" fill="none" stroke="#000" stroke-width="1"/>
<path d="M70.45,274.9 v-2.2 M70.45,14.5 v2.2 M86.59,274.9 v-2.2 M86.59,14.5 v2.2 M102.72,274.9 v-2.2 M102.72,14.5 v2.2 M118.85,274.9 v-4.4 M118.85,14.5 v4.4 M134.98,274.9 v-2.2 M134.98,14.5 v2.2 M151.11,274.9 v-2.2 M151.11,14.5 v2.2 M167.25,274.9 v-2.2 M167.25,14.5 v2.2 M183.38,274.9 v-2.2 M183.38,14.5 v2.2 M199.51,274.9 v-4.4 M199.51,14.5 v4.4 M215.64,274.9 v-2.2 M215.64,14.5 v2.2 M231.77,274.9 v-2.2 M231.77,14.5 v2.2 M247.91,274.9 v-2.2 M247.91,14.5 v2.2 M264.04,274.9 v-2.2 M264.04,14.5 v2.2 M280.17,274.9 v-4.4 M280.17,14.5 v4.4 M296.30,274.9 v-2.2 M296.30,14.5 v2.2 M312.43,274.9 v-2.2 M312.43,14.5 v2.2 M328.57,274.9 v-2.2 M328.57,14.5 v2.2 M344.70,274.9 v-2.2 M344.70,14.5 v2.2 M360.83,274.9 v-4.4 M360.83,14.5 v4.4 M376.96,274.9 v-2.2 M376.96,14.5 v2.2 M393.09,274.9 v-2.2 M393.09,14.5 v2.2 M409.23,274.9 v-2.2 M409.23,14.5 v2.2 M425.36,274.9 v-2.2 M425.36,14.5 v2.2 M441.49,274.9 v-4.4 M441.49,14.5 v4.4 M62.5,274.90 h4.4 M441.5,274.90 h-4.4 M62.5,264.05 h2.2 M441.5,264.05 h-2.2 M62.5,253.20 h2.2 M441.5,253.20 h-2.2 M62.5,242.35 h2.2 M441.5,242.35 h-2.2 M62.5,231.50 h4.4 M441.5,231.50 h-4.4 M62.5,220.65 h2.2 M441.5,220.65 h-2.2 M62.5,209.80 h2.2 M441.5,209.80 h-2.2 M62.5,198.95 h2.2 M441.5,198.95 h-2.2 M62.5,188.10 h4.4 M441.5,188.10 h-4.4 M62.5,177.25 h2.2 M441.5,177.25 h-2.2 M62.5,166.40 h2.2 M441.5,166.40 h-2.2 M62.5,155.55 h2.2 M441.5,155.55 h-2.2 M62.5,144.70 h4.4 M441.5,144.70 h-4.4 M62.5,133.85 h2.2 M441.5,133.85 h-2.2 M62.5,123.00 h2.2 M441.5,123.00 h-2.2 M62.5,112.15 h2.2 M441.5,112.15 h-2.2 M62.5,101.30 h4.4 M441.5,101.30 h-4.4 M62.5,90.45 h2.2 M441.5,90.45 h-2.2 M62.5,79.60 h2.2 M441.5,79.60 h-2.2 M62.5,68.75 h2.2 M441.5,68.75 h-2.2 M62.5,57.90 h4.4 M441.5,57.90 h-4.4 M62.5,47.05 h2.2 M441.5,47.05 h-2.2 M62.5,36.20 h2.2 M441.5,36.20 h-2.2 M62.5,25.35 h2.2 M441.5,25.35 h-2.2 M62.5,14.50 h4.4 M441.5,14.50 h-4.4" stroke="#000" stroke-width="1" fill="none"/>
<g font-family="Liberation Sans, sans-serif" font-size="13.0" fill="#000" style="font-kerning:none">
<text transform="translate(55.05,278.20) scale(1,1.09)" text-anchor="end">-60</text>
<text transform="translate(55.05,234.80) scale(1,1.09)" text-anchor="end">-40</text>
<text transform="translate(55.05,191.40) scale(1,1.09)" text-anchor="end">-20</text>
<text transform="translate(55.05,148.00) scale(1,1.09)" text-anchor="end">0</text>
<text transform="translate(55.05,104.60) scale(1,1.09)" text-anchor="end">20</text>
<text transform="translate(55.05,61.20) scale(1,1.09)" text-anchor="end">40</text>
<text transform="translate(55.05,17.80) scale(1,1.09)" text-anchor="end">60</text>
<text transform="translate(120.35,294.35) scale(1,1.09)" text-anchor="middle">0.0</text>
<text transform="translate(201.01,294.35) scale(1,1.09)" text-anchor="middle">1.0</text>
<text transform="translate(281.67,294.35) scale(1,1.09)" text-anchor="middle">2.0</text>
<text transform="translate(362.33,294.35) scale(1,1.09)" text-anchor="middle">3.0</text>
<text transform="translate(442.99,294.35) scale(1,1.09)" text-anchor="middle">4.0</text>
<text transform="translate(252.00,315.95) scale(1,1.09)" text-anchor="middle">r / Å</text>
<text transform="translate(16.70,144.50) rotate(-90) scale(1,1.09)" text-anchor="middle">E / kJ mol<tspan font-size="8.8" dy="-7.3">-1</tspan></text>
<text transform="translate(252.20,37.90) scale(1,1.09)" text-anchor="middle">C<tspan font-size="10.6" dy="4.1">2</tspan><tspan dy="-4.1">C</tspan><tspan font-size="10.6" dy="4.1">1</tspan><tspan dy="-4.1">im</tspan><tspan font-size="9.5" dy="-4.6">+</tspan><tspan dy="4.6"> ... C</tspan><tspan font-size="10.6" dy="4.1">4</tspan><tspan dy="-4.1">H</tspan><tspan font-size="10.6" dy="4.1">10</tspan></text>
<text transform="translate(251.70,56.20) scale(1,1.09)" text-anchor="middle">SAPT2+/aDZ</text>
<text transform="translate(387.30,30.15) scale(1,1.09)" text-anchor="end">Elec</text>
<text transform="translate(387.30,48.50) scale(1,1.09)" text-anchor="end">Exch</text>
<text transform="translate(387.30,66.85) scale(1,1.09)" text-anchor="end">Ind</text>
<text transform="translate(387.30,85.20) scale(1,1.09)" text-anchor="end">Disp</text>
<text transform="translate(387.30,103.55) scale(1,1.09)" text-anchor="end">Total</text>
</g>
<polygon points="410.90,30.15 407.50,24.65 414.30,24.65" fill="none" stroke="#ff0000" stroke-width="1.0" stroke-linejoin="miter"/><circle cx="410.90" cy="26.35" r="0.5" fill="#ff0000"/>
<polygon points="410.90,41.00 407.50,46.50 414.30,46.50" fill="none" stroke="#c080ff" stroke-width="1.0" stroke-linejoin="miter"/><circle cx="410.90" cy="44.80" r="0.5" fill="#c080ff"/>
<polygon points="410.90,59.80 414.18,62.18 412.93,66.04 408.87,66.04 407.62,62.18" fill="none" stroke="#057016" stroke-width="1.0" stroke-linejoin="miter"/><circle cx="410.90" cy="63.25" r="0.5" fill="#057016"/>
<circle cx="410.90" cy="81.70" r="3.35" fill="none" stroke="#0000ff" stroke-width="1.0"/><circle cx="410.90" cy="81.70" r="0.5" fill="#0000ff"/>
<rect x="407.60" y="96.85" width="6.60" height="6.60" fill="none" stroke="#000000" stroke-width="1.0"/><circle cx="410.90" cy="100.15" r="0.5" fill="#000000"/>
</svg>
</body></html>
